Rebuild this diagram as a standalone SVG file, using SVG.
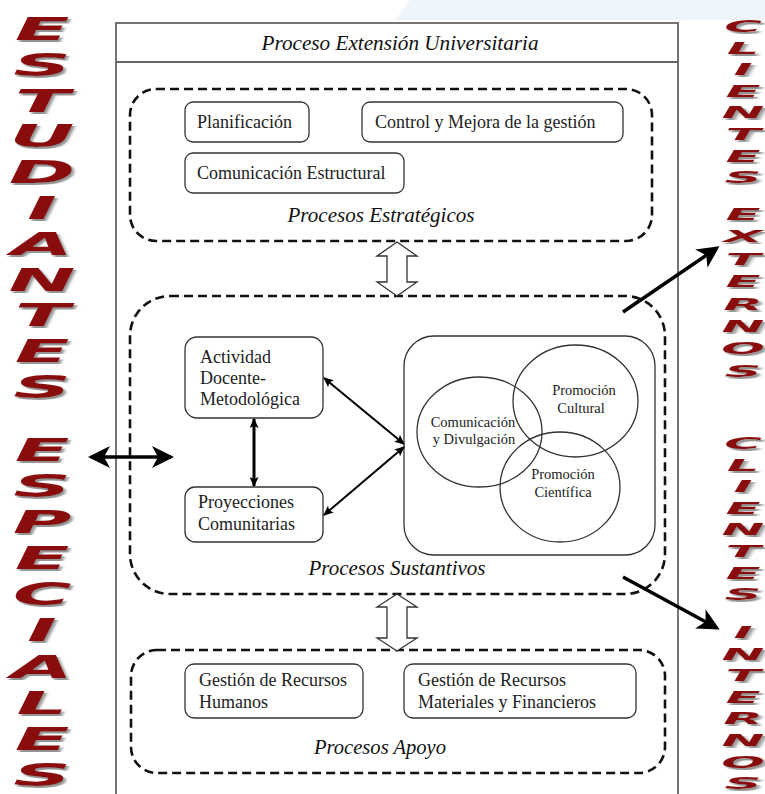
<svg xmlns="http://www.w3.org/2000/svg" width="765" height="794" viewBox="0 0 765 794">
<defs>
<style>
.bg{fill:#ffffff}
.tint{fill:#eef5fa}
.frame{fill:none;stroke:#666;stroke-width:1.8}
.box{fill:#fff;stroke:#333;stroke-width:1.3}
.ell{fill:none;stroke:#333;stroke-width:1.3}
.dash{fill:none;stroke:#111;stroke-width:2.6;stroke-dasharray:9 5}
.txt{font-family:"Liberation Serif","Times New Roman",serif;font-size:18px;fill:#222}
.small{font-family:"Liberation Serif","Times New Roman",serif;font-size:14.5px;fill:#222;text-anchor:middle}
.script{font-family:"Liberation Serif","Times New Roman",serif;font-style:italic;font-size:20px;fill:#111;text-anchor:middle}
.big{font-family:"DejaVu Sans",sans-serif;font-weight:bold;font-style:italic;fill:#8a0c0e;text-anchor:middle;filter:url(#shadow)}
.left{font-size:32px}
.right{font-size:16px}
.thick{stroke:#000;stroke-width:3.5;fill:none}
.thin{stroke:#000;stroke-width:2;fill:none}
.mid{stroke:#000;stroke-width:3;fill:none}
.hollow{fill:#fff;stroke:#333;stroke-width:1.3}
</style>
<filter id="shadow" x="-30%" y="-10%" width="160%" height="120%">
<feDropShadow dx="1" dy="2" stdDeviation="0.7" flood-color="#888" flood-opacity="0.9"/>
</filter>
<marker id="big" viewBox="0 0 22 22" refX="19" refY="11" markerWidth="22" markerHeight="22" markerUnits="userSpaceOnUse" orient="auto-start-reverse">
<path d="M0,0 L22,11 L0,22 L6,11 z" fill="#000"/>
</marker>
<marker id="small" viewBox="0 0 10 9" refX="9" refY="4.5" markerWidth="10" markerHeight="9" markerUnits="userSpaceOnUse" orient="auto-start-reverse">
<path d="M0,0 L10,4.5 L0,9 L2,4.5 z" fill="#000"/>
</marker>
</defs>

<rect class="bg" x="0" y="0" width="765" height="794"/>
<polygon class="tint" points="410,0 765,0 765,20 395,20"/>

<g id="proceso-extension">
<rect class="frame" x="116" y="23" width="562" height="790"/>
<line class="frame" x1="116" y1="62" x2="678" y2="62"/>
<text class="script" x="400" y="50" textLength="277" lengthAdjust="spacingAndGlyphs">Proceso Extensión Universitaria</text>
</g>

<g id="procesos-estrategicos">
<rect class="dash" x="130" y="89" width="522" height="152" rx="26"/>
<text class="script" x="381" y="222" textLength="187" lengthAdjust="spacingAndGlyphs">Procesos Estratégicos</text>
</g>
<g id="planificacion">
<rect class="box" x="185" y="102" width="124" height="40" rx="8"/>
<text class="txt" x="197" y="128">Planificación</text>
</g>
<g id="control-mejora">
<rect class="box" x="362" y="102" width="261" height="40" rx="8"/>
<text class="txt" x="375" y="128">Control y Mejora de la gestión</text>
</g>
<g id="comunicacion-estructural">
<rect class="box" x="185" y="153" width="219" height="40" rx="8"/>
<text class="txt" x="197" y="179">Comunicación Estructural</text>
</g>

<g id="procesos-sustantivos">
<rect class="dash" x="130" y="296" width="535" height="298" rx="40"/>
<text class="script" x="397" y="575" textLength="177" lengthAdjust="spacingAndGlyphs">Procesos Sustantivos</text>
</g>
<g id="actividad-docente">
<rect class="box" x="185" y="337" width="138" height="81" rx="12"/>
<text class="txt" x="200" y="363">Actividad</text>
<text class="txt" x="200" y="384">Docente-</text>
<text class="txt" x="200" y="405">Metodológica</text>
</g>
<g id="proyecciones-comunitarias">
<rect class="box" x="185" y="487" width="138" height="55" rx="10"/>
<text class="txt" x="198" y="508">Proyecciones</text>
<text class="txt" x="198" y="530">Comunitarias</text>
</g>
<g id="areas-extension">
<rect class="box" x="404" y="336" width="251" height="219" rx="30"/>
</g>
<g id="comunicacion-divulgacion">
<ellipse class="ell" cx="479.5" cy="432" rx="62.5" ry="55"/>
</g>
<g id="promocion-cultural">
<ellipse class="ell" cx="575.5" cy="401" rx="62.5" ry="56"/>
</g>
<g id="promocion-cientifica">
<ellipse class="ell" cx="560" cy="487" rx="60" ry="55"/>
</g>
<g id="area-labels">
<text class="small" x="473" y="427">Comunicación</text>
<text class="small" x="474" y="444">y Divulgación</text>
<text class="small" x="584" y="395">Promoción</text>
<text class="small" x="581" y="413">Cultural</text>
<text class="small" x="563" y="479">Promoción</text>
<text class="small" x="563" y="497">Científica</text>
</g>

<g id="procesos-apoyo">
<rect class="dash" x="131" y="650" width="534" height="123" rx="26"/>
<text class="script" x="380" y="754" textLength="132" lengthAdjust="spacingAndGlyphs">Procesos Apoyo</text>
</g>
<g id="recursos-humanos">
<rect class="box" x="185" y="664" width="178" height="54" rx="9"/>
<text class="txt" x="199" y="686">Gestión de Recursos</text>
<text class="txt" x="199" y="708">Humanos</text>
</g>
<g id="recursos-materiales">
<rect class="box" x="404" y="664" width="232" height="54" rx="9"/>
<text class="txt" x="418" y="686">Gestión de Recursos</text>
<text class="txt" x="418" y="708">Materiales y Financieros</text>
</g>

<g id="connectors">
<polygon class="hollow" points="397,242 417,256 407,256 407,282 417,282 397,296 377,282 387,282 387,256 377,256"/>
<polygon class="hollow" points="397,594 417,607 407,607 407,638 417,638 397,651 377,638 387,638 387,607 377,607"/>
<line class="thick" x1="91" y1="457" x2="171" y2="457" marker-start="url(#big)" marker-end="url(#big)"/>
<line class="mid" x1="254" y1="419" x2="254" y2="486" marker-start="url(#small)" marker-end="url(#small)"/>
<line class="thin" x1="324" y1="378" x2="404" y2="444" marker-start="url(#small)" marker-end="url(#small)"/>
<line class="thin" x1="324" y1="515" x2="404" y2="447" marker-start="url(#small)" marker-end="url(#small)"/>
<line class="thick" x1="623" y1="312" x2="717" y2="248" marker-end="url(#big)"/>
<line class="thick" x1="623" y1="577" x2="717" y2="628" marker-end="url(#big)"/>
</g>

<g id="estudiantes-especiales" transform="scale(2.5,1)">
<text class="big left"><tspan x="16.8" y="40">E</tspan><tspan x="16.8" y="75.8">S</tspan><tspan x="16.8" y="111.6">T</tspan><tspan x="16.8" y="147.4">U</tspan><tspan x="16.8" y="183.2">D</tspan><tspan x="16.8" y="219">I</tspan><tspan x="16.8" y="254.8">A</tspan><tspan x="16.8" y="290.6">N</tspan><tspan x="16.8" y="326.4">T</tspan><tspan x="16.8" y="362.2">E</tspan><tspan x="16.8" y="398">S</tspan></text>
<text class="big left"><tspan x="16.8" y="461">E</tspan><tspan x="16.8" y="497.1">S</tspan><tspan x="16.8" y="533.2">P</tspan><tspan x="16.8" y="569.3">E</tspan><tspan x="16.8" y="605.4">C</tspan><tspan x="16.8" y="641.5">I</tspan><tspan x="16.8" y="677.6">A</tspan><tspan x="16.8" y="713.7">L</tspan><tspan x="16.8" y="749.8">E</tspan><tspan x="16.8" y="786">S</tspan></text>
</g>

<g id="clientes-externos" transform="scale(3.2,1)">
<text class="big right"><tspan x="232.2" y="32">C</tspan><tspan x="232.2" y="53.6">L</tspan><tspan x="232.2" y="75.2">I</tspan><tspan x="232.2" y="96.8">E</tspan><tspan x="232.2" y="118.4">N</tspan><tspan x="232.2" y="140">T</tspan><tspan x="232.2" y="161.6">E</tspan><tspan x="232.2" y="183.2">S</tspan></text>
<text class="big right"><tspan x="232.2" y="220">E</tspan><tspan x="232.2" y="242.4">X</tspan><tspan x="232.2" y="264.8">T</tspan><tspan x="232.2" y="287.2">E</tspan><tspan x="232.2" y="309.6">R</tspan><tspan x="232.2" y="332">N</tspan><tspan x="232.2" y="354.4">O</tspan><tspan x="232.2" y="376.8">S</tspan></text>
</g>

<g id="clientes-internos" transform="scale(3.2,1)">
<text class="big right"><tspan x="232.2" y="449">C</tspan><tspan x="232.2" y="470.6">L</tspan><tspan x="232.2" y="492.2">I</tspan><tspan x="232.2" y="513.8">E</tspan><tspan x="232.2" y="535.4">N</tspan><tspan x="232.2" y="557">T</tspan><tspan x="232.2" y="578.6">E</tspan><tspan x="232.2" y="600.2">S</tspan></text>
<text class="big right"><tspan x="232.2" y="638">I</tspan><tspan x="232.2" y="659.6">N</tspan><tspan x="232.2" y="681.2">T</tspan><tspan x="232.2" y="702.8">E</tspan><tspan x="232.2" y="724.4">R</tspan><tspan x="232.2" y="746">N</tspan><tspan x="232.2" y="767.6">O</tspan><tspan x="232.2" y="789">S</tspan></text>
</g>
</svg>
